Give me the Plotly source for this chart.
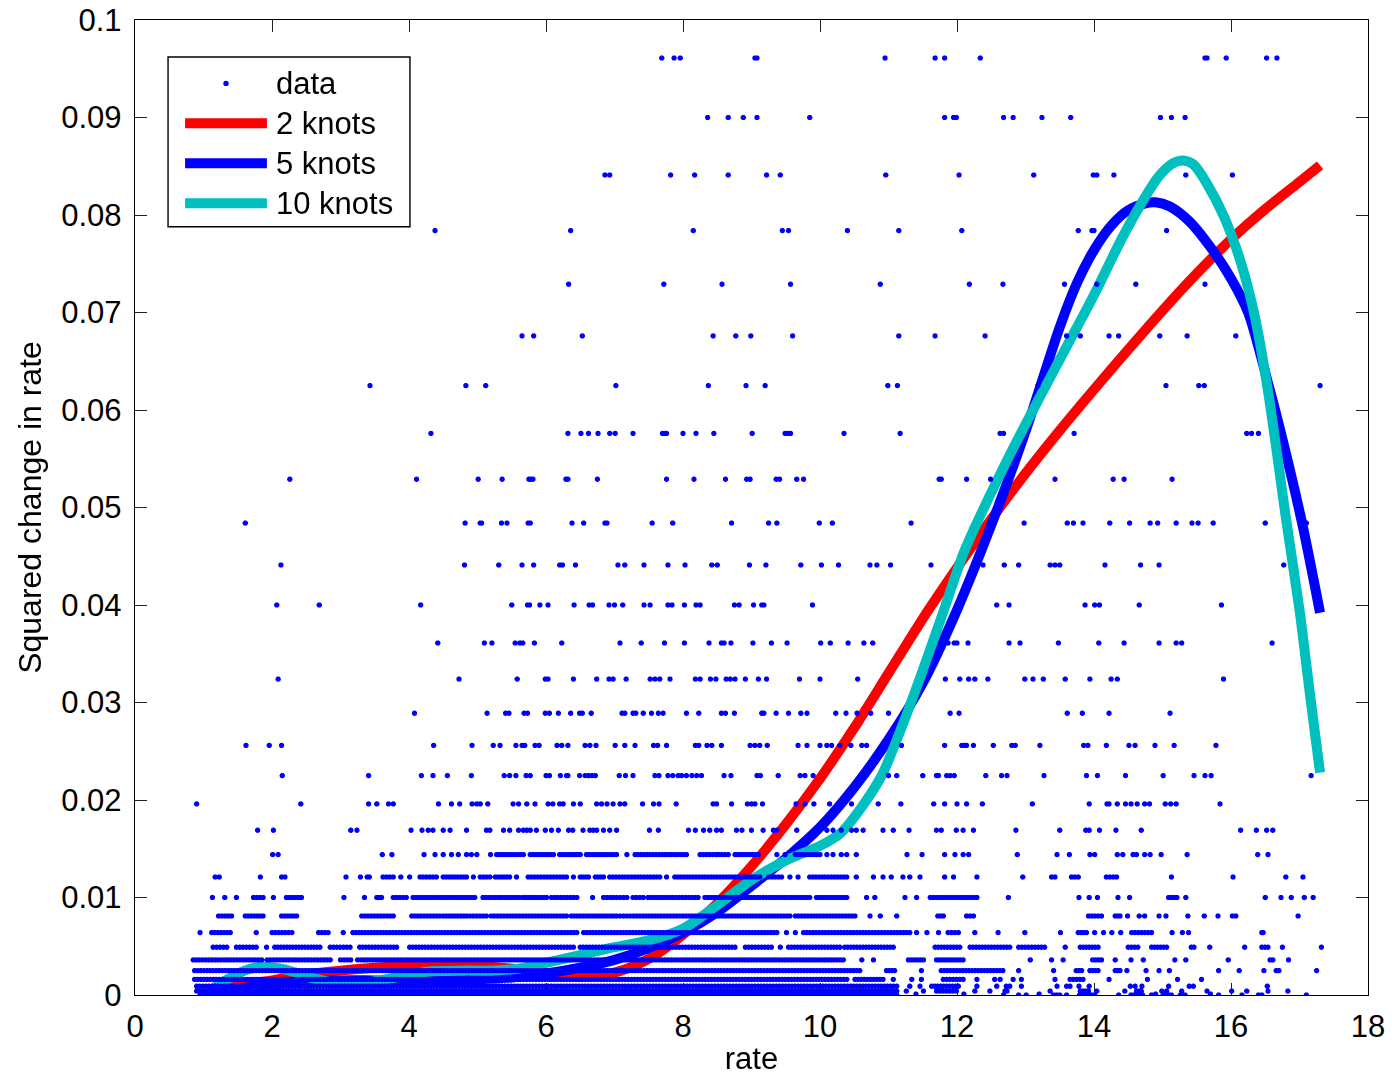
import numpy as np
import plotly.graph_objects as go

# Squared change in rate takes values (k * 0.01)**2; each row below holds the
# observed rates for one k.  Sparse rows list single observations, dense rows
# add contiguous runs (start, end) of closely packed observations.
STEP = 0.01

rate_k31 = [7.69, 7.87, 7.96, 9.05, 9.08, 10.95, 11.68, 11.82, 12.34, 15.62, 15.65, 15.93, 16.52, 16.67]
rate_k30 = [8.36, 8.66, 8.88, 9.08, 9.85, 11.82, 11.95, 11.99, 12.68, 12.82, 13.24, 13.66, 14.97, 15.13, 15.33]
rate_k29 = [6.86, 6.93, 7.82, 8.17, 8.66, 9.22, 9.42, 10.96, 12.03, 13.12, 13.99, 14.04, 14.29, 15.34, 16.02]
rate_k28 = [4.38, 6.36, 8.15, 9.45, 9.54, 10.40, 11.15, 12.07, 13.77, 13.97, 14.0, 15.06]
rate_k27 = [6.33, 7.72, 8.57, 9.57, 10.88, 12.18, 12.67, 13.57, 14.04, 14.61, 15.62]
rate_k26 = [5.65, 5.82, 6.53, 8.44, 8.77, 8.99, 9.60, 11.15, 11.68, 12.41, 13.6, 13.80, 14.22, 14.36,
            14.96, 15.36, 16.07]
rate_k25 = [3.43, 4.83, 5.12, 7.02, 8.37, 8.92, 9.20, 10.99, 11.13, 13.18, 15.05, 15.53, 15.61, 17.30]
rate_k24 = [4.32, 6.32, 6.51, 6.62, 6.76, 6.93, 7.01, 7.27, 7.70, 7.73, 7.76, 8.0, 8.19, 8.45, 9.01,
            9.49, 9.53, 9.57, 10.35, 11.17, 12.63, 12.68, 13.71, 16.23, 16.30, 16.40]
rate_k23 = [2.26, 4.11, 5.01, 5.36, 5.75, 5.78, 5.81, 6.29, 6.32, 6.75, 7.76, 8.16, 8.62, 8.93, 8.98,
            9.36, 9.41, 9.66, 9.76, 11.74, 11.77, 12.14, 12.49, 13.43, 14.28, 14.44, 15.14]
rate_k22 = [1.61, 4.82, 5.04, 5.06, 5.35, 5.43, 5.74, 5.77, 6.38, 6.55, 6.86, 6.89, 7.55, 7.85, 8.71,
            9.25, 9.37, 9.99, 10.18, 11.33, 12.98, 13.61, 13.70, 13.84, 14.23, 14.52, 14.82, 14.93,
            15.20, 15.43, 15.52, 15.74, 16.50, 17.10]
rate_k21 = [2.13, 4.81, 5.31, 5.65, 5.82, 6.20, 6.24, 6.43, 7.05, 7.15, 7.43, 7.78, 8.03, 8.42, 8.50,
            8.97, 9.21, 9.72, 10.02, 10.27, 10.73, 10.83, 11.03, 11.62, 12.38, 12.69, 12.90, 13.36,
            13.43, 13.50, 14.16, 14.68, 14.95, 16.77]
rate_k20 = [2.07, 2.69, 4.17, 5.50, 5.73, 5.76, 5.91, 6.03, 6.41, 6.63, 6.68, 6.92, 7.0, 7.12, 7.43,
            7.52, 7.78, 7.84, 8.02, 8.19, 8.25, 8.75, 8.82, 9.03, 9.15, 9.18, 9.89, 12.58, 12.76,
            13.87, 14.01, 14.08, 14.66, 15.86]
rate_k19 = [4.42, 5.10, 5.21, 5.55, 5.62, 5.66, 5.83, 6.23, 7.08, 7.39, 7.73, 8.02, 8.38, 8.56, 8.60,
            8.70, 9.02, 9.29, 9.52, 10.01, 10.15, 10.41, 10.64, 10.77, 11.87, 11.96, 12.0, 12.16,
            12.76, 12.92, 13.48, 14.07, 14.44, 14.95, 15.20, 15.28, 16.60]
rate_k18 = [2.09, 4.73, 5.58, 5.99, 6.03, 6.40, 6.74, 6.92, 6.98, 7.17, 7.52, 7.59, 7.66, 7.81, 8.18,
            8.25, 8.40, 8.48, 8.63, 8.69, 8.76, 8.91, 9.10, 9.22, 9.70, 10.00, 10.55, 11.83, 12.04,
            12.17, 12.26, 12.45, 12.99, 13.11, 13.26, 13.58, 13.94, 14.25, 14.34, 15.89]
rate_k17 = [4.08, 5.14, 5.41, 5.46, 5.68, 5.73, 5.99, 6.05, 6.18, 6.36, 6.49, 6.53, 6.66, 7.11, 7.15,
            7.27, 7.31, 7.42, 7.54, 7.64, 7.71, 8.05, 8.23, 8.56, 8.62, 8.75, 9.15, 9.18, 9.36, 9.54,
            9.72, 9.81, 10.23, 10.38, 10.54, 10.74, 11.0, 11.90, 12.03, 13.61, 13.83, 14.22, 15.11]
rate_k16 = [1.62, 1.96, 2.14, 4.36, 4.92, 5.23, 5.33, 5.56, 5.65, 5.69, 5.84, 5.90, 6.16, 6.23, 6.32,
            6.57, 6.64, 6.73, 7.01, 7.15, 7.30, 7.57, 7.63, 7.76, 8.18, 8.23, 8.35, 8.42, 8.56, 8.98,
            9.05, 9.12, 9.23, 9.68, 9.81, 10.0, 10.10, 10.17, 10.29, 10.45, 10.61, 10.68, 11.19,
            11.82, 12.07, 12.11, 12.14, 12.24, 12.53, 12.80, 12.85, 13.21, 13.85, 13.91, 14.18,
            14.51, 14.60, 14.89, 15.17, 15.78]
rate_k15 = [2.15, 3.41, 4.18, 4.35, 4.56, 4.91, 5.39, 5.47, 5.56, 5.71, 5.77, 6.0, 6.05, 6.21, 6.30,
            6.32, 6.49, 6.57, 6.62, 6.67, 6.72, 7.07, 7.16, 7.27, 7.59, 7.65, 7.78, 7.85, 7.93, 7.98,
            8.05, 8.13, 8.20, 8.27, 8.60, 8.70, 9.08, 9.13, 9.39, 9.71, 9.78, 9.90, 11.0, 11.12,
            11.50, 11.70, 11.73, 11.85, 11.90, 11.96, 12.42, 12.65, 12.73, 13.27, 13.89, 14.05,
            14.46, 15.01, 15.46, 15.62, 15.71, 17.17]
rate_k14 = [0.90, 2.42, 3.41, 3.53, 3.70, 3.77, 4.43, 4.62, 4.74, 4.92, 4.99, 5.04, 5.15, 5.52, 5.60,
            5.72, 5.84, 6.03, 6.10, 6.20, 6.25, 6.40, 6.50, 6.74, 6.81, 6.89, 6.98, 7.08, 7.15, 7.41,
            7.57, 7.65, 7.90, 8.44, 8.49, 8.71, 8.94, 9.00, 9.05, 9.16, 9.65, 9.78, 9.91, 10.14,
            10.46, 10.85, 11.18, 11.66, 11.82, 12.0, 12.14, 12.37, 13.10, 13.93, 14.19, 14.22,
            14.34, 14.46, 14.54, 14.63, 14.74, 14.81, 15.04, 15.12, 15.20, 15.84]
rate_k13 = [1.79, 2.02, 3.15, 3.24, 4.03, 4.19, 4.28, 4.35, 4.50, 4.60, 4.84, 5.13, 5.18, 5.38, 5.47,
            5.60, 5.67, 5.72, 5.77, 5.86, 5.99, 6.08, 6.18, 6.33, 6.39, 6.54, 6.64, 6.69, 6.74, 6.84,
            6.93, 7.03, 7.51, 7.64, 8.08, 8.18, 8.30, 8.39, 8.49, 8.56, 8.78, 8.86, 9.00, 9.17, 9.32,
            9.37, 9.66, 9.95, 10.10, 10.19, 10.31, 10.46, 10.53, 10.63, 10.92, 11.07, 11.30, 11.70,
            11.77, 11.99, 12.09, 12.24, 12.86, 13.50, 13.88, 13.93, 14.08, 14.32, 14.69, 16.14,
            16.37, 16.52, 16.61]
rate_k12 = [2.01, 2.09, 3.61, 3.75, 4.22, 4.38, 4.50, 4.62, 4.72, 4.84, 4.91, 4.99, 5.19, 7.18, 8.49,
            9.37, 9.49, 10.10, 10.19, 10.31, 10.39, 10.53, 11.27, 11.49, 11.82, 11.97, 12.09, 12.17,
            12.88, 13.46, 13.64, 13.94, 14.01, 14.34, 14.42, 14.57, 14.62, 14.74, 14.82, 14.98,
            15.36, 16.39, 16.54]
runs_k12 = [(5.28, 5.67), (5.77, 6.11), (6.20, 6.50), (6.59, 7.03), (7.30, 8.05), (8.25, 8.66),
            (8.76, 9.10), (9.64, 10.0)]
rate_k11 = [1.17, 1.23, 1.83, 2.14, 2.19, 3.08, 3.29, 3.39, 3.42, 3.88, 4.01, 4.94, 5.57, 6.40, 7.76,
            9.56, 9.68, 10.53, 10.78, 10.92, 11.04, 11.21, 11.31, 11.46, 11.82, 11.95, 12.29, 12.96,
            13.38, 13.43, 15.13, 16.03, 16.80, 17.05]
runs_k11 = [(3.62, 3.77), (4.16, 4.40), (4.50, 4.84), (5.04, 5.18), (5.26, 5.47), (5.74, 6.30),
            (6.50, 6.62), (6.72, 6.84), (6.93, 7.66), (7.88, 9.12), (9.25, 9.44), (9.85, 10.39),
            (13.67, 13.77), (14.18, 14.33)]
rate_k10 = [1.13, 1.31, 1.48, 2.02, 3.05, 3.35, 6.68, 10.68, 10.80, 11.24, 11.41, 12.75, 13.78, 13.93,
            14.05, 14.35, 14.52, 15.34, 16.50, 16.73, 16.88, 17.07, 17.20]
runs_k10 = [(1.73, 1.87), (2.21, 2.43), (3.53, 3.60), (3.77, 3.96), (4.06, 4.96), (5.08, 5.62),
            (5.67, 6.01), (6.08, 6.45), (6.84, 7.03), (7.08, 7.18), (7.27, 7.42), (7.49, 8.22),
            (8.32, 9.12), (9.17, 9.85), (9.95, 10.39), (11.61, 12.29), (15.09, 15.21)]
rate_k9 = [10.73, 10.88, 11.12, 14.49, 14.66, 14.74, 14.95, 15.05, 15.37, 15.61, 15.81, 16.02, 16.07,
           16.98]
runs_k9 = [(1.22, 1.41), (1.61, 1.87), (2.14, 2.36), (3.31, 3.77), (4.04, 4.45), (4.50, 4.84),
           (4.89, 5.13), (5.20, 6.30), (6.37, 7.03), (7.08, 7.23), (7.28, 9.56), (9.64, 10.51),
           (11.72, 11.80), (12.14, 12.24), (13.92, 14.11), (14.31, 14.38)]
rate_k8 = [0.95, 1.77, 3.04, 9.51, 9.64, 11.41, 11.56, 11.73, 12.26, 12.60, 12.99, 13.51, 14.01, 14.14,
           14.26, 14.39, 15.14, 15.29, 15.38, 16.45, 16.47]
runs_k8 = [(1.12, 1.39), (2.0, 2.29), (2.68, 2.82), (3.18, 6.45), (6.55, 9.37), (9.76, 11.31),
           (11.87, 12.02), (13.77, 13.89), (14.55, 14.84)]
rate_k7 = [1.92, 9.42, 13.58, 15.69, 16.20, 16.75, 17.32]
runs_k7 = [(1.14, 1.34), (1.48, 1.77), (2.04, 2.70), (2.85, 3.14), (3.28, 3.82), (4.01, 6.40),
           (6.50, 8.76), (8.91, 9.29), (9.54, 10.29), (10.36, 11.07), (11.68, 12.04), (12.19, 12.77),
           (12.90, 13.28), (13.80, 14.06), (14.50, 14.64), (14.84, 15.06), (15.42, 15.46),
           (16.45, 16.54)]
rate_k6 = [10.61, 10.78, 13.07, 13.38, 13.55, 14.31, 14.54, 14.72, 15.18, 15.34, 15.96, 16.84]
runs_k6 = [(0.85, 1.85), (1.93, 2.85), (3.0, 3.15), (3.25, 10.34), (11.29, 11.51), (11.70, 12.09),
           (13.98, 14.11), (16.57, 16.61)]
rate_k5 = [11.48, 12.90, 13.41, 14.48, 14.76, 14.95, 15.10, 15.82, 16.12, 16.48, 17.25]
runs_k5 = [(0.87, 10.58), (10.97, 11.09), (11.77, 12.67), (13.74, 13.82), (13.94, 14.06),
           (14.31, 14.38), (16.66, 16.70)]
rate_k4 = [11.07, 11.34, 11.48, 12.29, 12.55, 12.63, 12.82, 12.94, 13.43, 14.22, 14.78, 15.22, 15.57]
runs_k4 = [(0.87, 10.39), (10.51, 10.92), (11.80, 12.09), (13.65, 13.84)]
rate_k3 = [11.31, 11.46, 12.29, 12.58, 12.72, 12.77, 12.94, 13.46, 13.78, 13.93, 14.53, 14.60, 14.70,
           15.09, 16.53]
runs_k3 = [(0.90, 11.12), (11.63, 12.02), (13.60, 13.65), (15.39, 15.45)]
rate_k2 = [11.26, 11.51, 12.26, 12.48, 12.70, 12.73, 13.36, 14.04, 14.99, 15.06, 15.28, 15.65, 16.01,
           16.23, 16.54, 16.83]
runs_k2 = [(0.90, 11.12), (11.70, 11.99), (13.80, 13.92), (14.45, 14.47), (14.62, 14.69)]
rate_k1 = [11.40, 12.10, 13.20, 14.90, 15.70]
runs_k1 = [(1.00, 10.80)]
rate_k0 = [12.68, 12.90, 13.01, 13.60, 14.36, 14.84, 15.82, 16.16, 17.10]
runs_k0 = [(0.95, 11.12), (13.41, 13.50), (13.79, 14.01), (14.54, 14.71), (15.01, 15.13),
           (15.26, 15.33), (16.40, 16.45)]

rows = {
    31: (rate_k31, []), 30: (rate_k30, []), 29: (rate_k29, []), 28: (rate_k28, []),
    27: (rate_k27, []), 26: (rate_k26, []), 25: (rate_k25, []), 24: (rate_k24, []),
    23: (rate_k23, []), 22: (rate_k22, []), 21: (rate_k21, []), 20: (rate_k20, []),
    19: (rate_k19, []), 18: (rate_k18, []), 17: (rate_k17, []), 16: (rate_k16, []),
    15: (rate_k15, []), 14: (rate_k14, []), 13: (rate_k13, []), 12: (rate_k12, runs_k12),
    11: (rate_k11, runs_k11), 10: (rate_k10, runs_k10), 9: (rate_k9, runs_k9),
    8: (rate_k8, runs_k8), 7: (rate_k7, runs_k7), 6: (rate_k6, runs_k6), 5: (rate_k5, runs_k5),
    4: (rate_k4, runs_k4), 3: (rate_k3, runs_k3), 2: (rate_k2, runs_k2), 1: (rate_k1, runs_k1),
    0: (rate_k0, runs_k0),
}

# Fitted regression splines: rate grid and fitted squared change
fit2_rate = [1.1, 1.5, 2.0, 2.5, 3.0, 3.5, 4.0, 4.5, 5.0, 5.5, 6.0, 6.5, 7.0, 7.5, 8.0, 8.5, 9.0,
             9.5, 10.0, 10.5, 11.0, 11.5, 12.0, 12.5, 13.0, 13.5, 14.0, 14.5, 15.0, 15.5, 16.0,
             16.5, 17.0, 17.3]
fit2_val = [0.0002, 0.0009, 0.0015, 0.0021, 0.0025, 0.0028, 0.0030, 0.0031, 0.0030, 0.0027, 0.0022,
            0.0019, 0.0023, 0.0037, 0.0062, 0.0094, 0.0132, 0.0175, 0.0222, 0.0274, 0.0330,
            0.0386, 0.0438, 0.0488, 0.0535, 0.0579, 0.0621, 0.0662, 0.0702, 0.0740, 0.0775,
            0.0806, 0.0834, 0.0851]
fit5_rate = [1.1, 1.5, 2.0, 2.5, 3.0, 3.5, 4.0, 4.5, 5.0, 5.5, 6.0, 6.5, 7.0, 7.5, 8.0, 8.5, 9.0,
             9.5, 10.0, 10.5, 11.0, 11.5, 12.0, 12.5, 13.0, 13.5, 13.75, 14.0, 14.25, 14.5, 14.75,
             14.9, 15.1, 15.4, 15.7, 16.0, 16.25, 16.55, 16.8, 17.05, 17.3]
fit5_val = [0.0001, 0.0006, 0.0011, 0.0014, 0.0015, 0.0015, 0.0015, 0.0015, 0.0016, 0.0018, 0.0022,
            0.0028, 0.0036, 0.0048, 0.0064, 0.0085, 0.0112, 0.0140, 0.0172, 0.0213, 0.0262,
            0.0320, 0.0395, 0.0482, 0.0578, 0.0685, 0.0730, 0.0764, 0.0789, 0.0805, 0.0812,
            0.0813, 0.0809, 0.0793, 0.0767, 0.0735, 0.0700, 0.0625, 0.0556, 0.0480, 0.0392]
fit10_rate = [1.05, 1.3, 1.6, 1.85, 2.2, 2.6, 3.0, 3.4, 3.8, 4.3, 4.8, 5.2, 5.6, 6.0, 6.5, 7.0, 7.5,
              8.0, 8.5, 9.0, 9.5, 10.0, 10.3, 10.6, 10.9, 11.2, 11.5, 11.8, 12.1, 12.45, 12.8,
              13.2, 13.6, 14.0, 14.4, 14.7, 14.95, 15.15, 15.3, 15.45, 15.65, 15.9, 16.15, 16.35,
              16.55, 16.8, 17.0, 17.15, 17.3]
fit10_val = [0.0002, 0.0014, 0.0025, 0.0029, 0.0026, 0.0017, 0.0012, 0.0013, 0.0018, 0.0024,
             0.0025, 0.0025, 0.0027, 0.0033, 0.0041, 0.0049, 0.0056, 0.0068, 0.0092, 0.0118,
             0.0138, 0.0153, 0.0166, 0.0192, 0.0225, 0.0276, 0.0333, 0.0393, 0.0454, 0.0508,
             0.0558, 0.0612, 0.0665, 0.0718, 0.0775, 0.0813, 0.0840, 0.0853, 0.0856, 0.0852,
             0.0832, 0.0798, 0.0750, 0.0695, 0.0615, 0.0490, 0.0395, 0.0310, 0.0228]

x_tickvals = [0, 2, 4, 6, 8, 10, 12, 14, 16, 18]
y_tickvals = [0, 0.01, 0.02, 0.03, 0.04, 0.05, 0.06, 0.07, 0.08, 0.09, 0.1]
y_ticktext = ["0", "0.01", "0.02", "0.03", "0.04", "0.05", "0.06", "0.07", "0.08", "0.09", "0.1"]

legend_labels = ["data", "2 knots", "5 knots", "10 knots"]

BLUE = "#0000FF"
RED = "#FF0000"
CYAN = "#00BFBF"
FONT = "Liberation Sans, Arial, Helvetica, sans-serif"
FS = 31
LW = 10
PITCH = 0.045  # spacing of packed observations inside a run


def row_points(points, runs):
    xs = list(points)
    for a, b in runs:
        n = int(round((b - a) / PITCH)) + 1
        xs.extend(np.linspace(a, b, n).tolist())
    return xs


data_x, data_y = [], []
for k, (pts, runs) in rows.items():
    xs = row_points(pts, runs)
    data_x.extend(xs)
    data_y.extend([(k * STEP) ** 2] * len(xs))

fig = go.Figure()
fig.add_trace(go.Scattergl(
    x=data_x, y=data_y, mode="markers", name=legend_labels[0],
    marker=dict(color=BLUE, size=5.5, line=dict(width=0)), showlegend=False,
))
for xs, ys, col, name in [(fit2_rate, fit2_val, RED, legend_labels[1]),
                          (fit5_rate, fit5_val, BLUE, legend_labels[2]),
                          (fit10_rate, fit10_val, CYAN, legend_labels[3])]:
    fig.add_trace(go.Scatter(
        x=xs, y=ys, mode="lines", name=name, showlegend=False,
        line=dict(color=col, width=LW, shape="spline", smoothing=0.8),
    ))

# Boxed legend drawn in paper coordinates
shapes = [dict(type="rect", xref="paper", yref="paper", x0=0.0268, x1=0.223, y0=0.788, y1=0.962,
               line=dict(color="black", width=1.4), fillcolor="white", layer="above")]
annotations = []
row_y = [0.935, 0.894, 0.853, 0.812]
for i, (lab, yy) in enumerate(zip(legend_labels, row_y)):
    if i == 0:
        shapes.append(dict(type="circle", xref="paper", yref="paper",
                           xsizemode="pixel", ysizemode="pixel", xanchor=0.0738, yanchor=yy,
                           x0=-2.7, x1=2.7, y0=-2.7, y1=2.7,
                           fillcolor=BLUE, line=dict(width=0), layer="above"))
    else:
        col = [RED, BLUE, CYAN][i - 1]
        shapes.append(dict(type="line", xref="paper", yref="paper", x0=0.0406, x1=0.107,
                           y0=yy, y1=yy, line=dict(color=col, width=LW), layer="above"))
    annotations.append(dict(xref="paper", yref="paper", x=0.1130, y=yy, text=lab,
                            showarrow=False, xanchor="left", yanchor="middle",
                            font=dict(family=FONT, size=FS, color="black")))

axis_common = dict(
    showline=True, linecolor="black", linewidth=1.4, mirror="ticks",
    ticks="inside", ticklen=12, tickwidth=1.2, tickcolor="#222222",
    showgrid=False, zeroline=False,
    tickfont=dict(family=FONT, size=FS, color="black"),
)

fig.update_layout(
    width=1392, height=1076,
    margin=dict(l=135, r=24, t=20, b=81, autoexpand=False),
    paper_bgcolor="white", plot_bgcolor="white",
    xaxis=dict(range=[0, 18], tickvals=x_tickvals, ticklabelstandoff=4,
               title=dict(text="rate", font=dict(family=FONT, size=FS, color="black"), standoff=4),
               **axis_common),
    yaxis=dict(range=[0, 0.1], tickvals=y_tickvals, ticktext=y_ticktext, ticklabelstandoff=6,
               title=dict(text="Squared change in rate",
                          font=dict(family=FONT, size=32, color="black"), standoff=10),
               **axis_common),
    shapes=shapes, annotations=annotations, showlegend=False,
)

fig.write_html("out.html")
